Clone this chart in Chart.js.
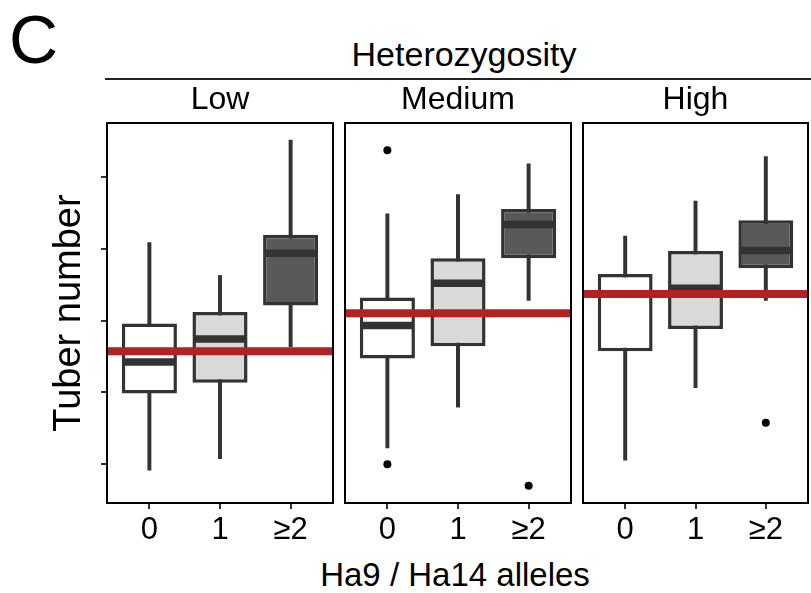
<!DOCTYPE html>
<html>
<head>
<meta charset="utf-8">
<script src="https://cdn.jsdelivr.net/npm/chart.js@4.4.1/dist/chart.umd.min.js"></script>
<style>
  body { margin: 0; width: 811px; height: 593px; position: relative; overflow: hidden; background: #fff;
         font-family: "Liberation Sans", Arial, sans-serif; }
  canvas, .txt, #rule { position: absolute; }
  .txt { white-space: nowrap; color: #000; }
  #letter { left: 9px; top: 5px; font-size: 68px; line-height: 68px; }
  #facet { left: 264px; top: 37px; width: 400px; text-align: center; font-size: 34px; line-height: 34px; }
  #rule { left: 105px; top: 78px; width: 706px; height: 2px; background: #222; }
  #xtitle { left: 255px; top: 558px; width: 400px; text-align: center; font-size: 33px; line-height: 33px; }
</style>
</head>
<body>
<div id="letter" class="txt">C</div>
<div id="facet" class="txt">Heterozygosity</div>
<div id="rule"></div>
<div id="xtitle" class="txt">Ha9 / Ha14 alleles</div>
<canvas id="p0" width="340" height="593" style="left:0;top:0"></canvas>
<canvas id="p1" width="236" height="593" style="left:340px;top:0"></canvas>
<canvas id="p2" width="233" height="593" style="left:578px;top:0"></canvas>
<script>
const groups = ['0', '1', '≥2'];
const panels = ['Low', 'Medium', 'High'];
const yTicks = [10, 20, 30, 40, 50];

// box stats, one row per panel, one value per allele group
const whiskerLow = [[9.1, 10.7, 26.3], [12.2, 17.9, 32.8], [10.5, 20.6, 32.8]];
const lowerQuartile = [[19.8, 21.3, 32.1], [24.7, 26.4, 38.7], [25.7, 28.8, 37.3]];
const medians = [[24.2, 27.4, 39.4], [29.3, 35.2, 43.4], [33.7, 34.5, 39.8]];
const upperQuartile = [[29.6, 31.2, 42.0], [33.2, 38.7, 45.6], [36.5, 39.7, 44.0]];
const whiskerHigh = [[40.9, 36.3, 55.2], [44.9, 47.6, 51.9], [41.8, 46.7, 52.9]];
// outliers: [group index, value]
const outliers = [[], [[0, 53.8], [0, 9.9], [2, 6.9]], [[2, 15.7]]];
const panelMeans = [25.7, 31.0, 33.7];

const fills = ['#ffffff', '#d9d9d9', '#595959'];
const family = '"Liberation Sans", Arial, sans-serif';
Chart.defaults.font.family = family;

// black frame round each panel
const frame = {
  id: 'frame',
  afterDatasetsDraw(chart) {
    const { ctx, chartArea: a } = chart;
    ctx.save();
    ctx.strokeStyle = '#000';
    ctx.lineWidth = 2;
    ctx.strokeRect(a.left, a.top, a.right - a.left, a.bottom - a.top);
    ctx.restore();
  }
};

function makePanel(i) {
  const first = i === 0;
  const pad = [{ left: 43, right: 7 }, { left: 5, right: 5 }, { left: 5, right: 3 }][i];

  new Chart(document.getElementById('p' + i), {
    type: 'scatter',
    data: {
      datasets: [
        {
          type: 'line',
          data: [{ x: -0.6, y: panelMeans[i] }, { x: 2.6, y: panelMeans[i] }],
          borderColor: '#b22222', borderWidth: 8, pointRadius: 0, clip: 0, order: 0
        },
        {
          data: outliers[i].map(o => ({ x: o[0], y: o[1] })),
          pointRadius: 4, backgroundColor: '#000', borderWidth: 0, order: 1
        },
        {
          data: medians[i].map((m, k) => ({ x: k, y: m })),
          pointStyle: 'line', pointRadius: 25, borderColor: '#333', borderWidth: 7.5, order: 2
        },
        {
          type: 'bar',
          data: groups.map((g, k) => ({ x: k, y: [lowerQuartile[i][k], upperQuartile[i][k]] })),
          backgroundColor: fills, borderColor: '#333', borderWidth: 3.5, borderSkipped: false,
          grouped: false, categoryPercentage: 1, barPercentage: 0.78, order: 3
        },
        {
          type: 'bar',
          data: groups.map((g, k) => ({ x: k, y: [whiskerLow[i][k], whiskerHigh[i][k]] })),
          backgroundColor: '#333', borderWidth: 0, barThickness: 3.3, grouped: false, order: 4
        }
      ]
    },
    options: {
      responsive: false,
      animation: false,
      events: [],
      layout: { autoPadding: false, padding: { top: 81, bottom: 0, left: pad.left, right: pad.right } },
      plugins: {
        legend: { display: false },
        tooltip: { enabled: false },
        title: {
          display: true, text: panels[i], fullSize: false, color: '#000',
          font: { size: 32, weight: 'normal' }, padding: { top: 0, bottom: 3.6 }
        }
      },
      scales: {
        x: {
          type: 'linear', min: -0.6, max: 2.6, offset: false,
          afterBuildTicks: s => { s.ticks = groups.map((g, k) => ({ value: k })); },
          ticks: {
            callback: v => groups[v], color: '#000', font: { size: 31 },
            padding: 3, autoSkip: false, maxRotation: 0
          },
          grid: { offset: false, drawOnChartArea: false, tickLength: 6, color: '#333', lineWidth: 2 },
          border: { display: false },
          afterFit: s => { s.height = 90; s.paddingLeft = 0; s.paddingRight = 0; }
        },
        y: {
          min: 4.5, max: 57.6,
          display: first,
          afterBuildTicks: s => { s.ticks = yTicks.map(v => ({ value: v })); },
          ticks: { display: false },
          grid: { drawOnChartArea: false, tickLength: 6, color: '#333', lineWidth: 2 },
          border: { display: false },
          title: {
            display: true, text: 'Tuber number', color: '#000',
            font: { size: 38 }, padding: { top: 4, bottom: 0 }
          },
          afterFit: s => { s.width = first ? 64 : 0; }
        }
      }
    },
    plugins: [frame]
  });
}

panels.forEach((p, i) => makePanel(i));
</script>
</body>
</html>
